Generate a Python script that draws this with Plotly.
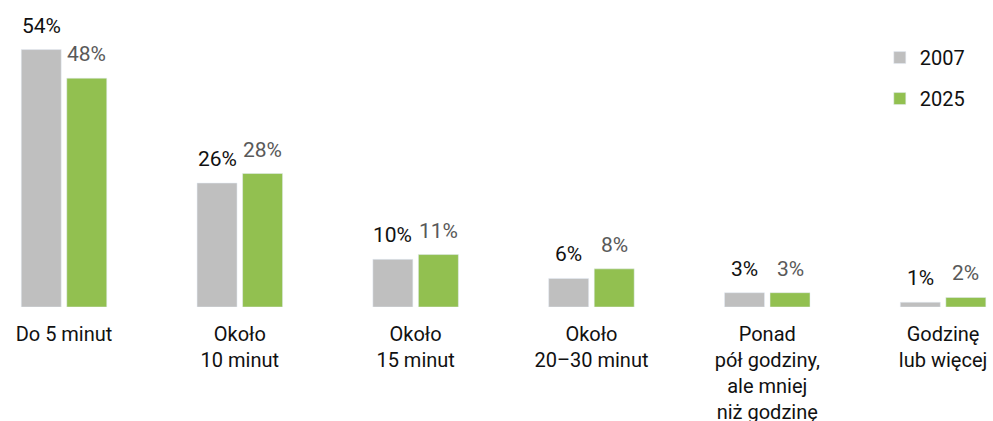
import plotly.graph_objects as go

categories = ["Do 5 minut", "Około<br>10 minut", "Około<br>15 minut", "Około<br>20–30 minut",
              "Ponad<br>pół godziny,<br>ale mniej<br>niż godzinę", "Godzinę<br>lub więcej"]
values_2007 = [54, 26, 10, 6, 3, 1]
values_2025 = [48, 28, 11, 8, 3, 2]
series_names = ["2007", "2025"]

GRAY = "#bfbfbf"
GREEN = "#92c050"
FONT = "Roboto, sans-serif"
FS = 21

x = list(range(len(categories)))
fig = go.Figure()
fig.add_trace(go.Bar(x=x, y=values_2007, name=series_names[0], marker_color=GRAY,
                     legendgroup="a", hoverinfo="skip"))
fig.add_trace(go.Bar(x=x, y=values_2025, name=series_names[1], marker_color=GREEN,
                     legendgroup="b", hoverinfo="skip"))

bargap = 0.482
slot = (1 - bargap) / 2
for i in x:
    fig.add_annotation(x=i - slot / 2, y=values_2007[i], text=f"{values_2007[i]}%",
                       showarrow=False, yanchor="bottom", yshift=10,
                       font=dict(family=FONT, size=FS, color="#111111"))
    fig.add_annotation(x=i + slot / 2, y=values_2025[i], text=f"{values_2025[i]}%",
                       showarrow=False, yanchor="bottom", yshift=10,
                       font=dict(family=FONT, size=FS, color="#595959"))

fig.update_layout(
    width=993, height=421,
    margin=dict(l=0, r=0, t=0, b=114, autoexpand=False),
    paper_bgcolor="white", plot_bgcolor="white",
    barmode="group", bargap=bargap, bargroupgap=0.122,
    font=dict(family=FONT, size=FS, color="#111111"),
    showlegend=True,
    legend=dict(x=0.886, y=0.876, xanchor="left", yanchor="top",
                font=dict(family=FONT, size=20, color="#111111"),
                tracegroupgap=12, bgcolor="rgba(0,0,0,0)"),
    xaxis=dict(tickmode="array", tickvals=x, ticktext=categories,
               range=[-0.364, 5.284], showgrid=False, zeroline=False,
               showline=False, ticks="", ticklabelstandoff=13, automargin=False,
               tickfont=dict(family=FONT, size=20, color="#111111")),
    yaxis=dict(range=[0, 64.4], visible=False, showgrid=False, zeroline=False,
               automargin=False),
)

fig.write_html("out.html", config={"displayModeBar": False},
               post_script="document.body.style.margin='0';document.body.style.overflow='hidden';")
